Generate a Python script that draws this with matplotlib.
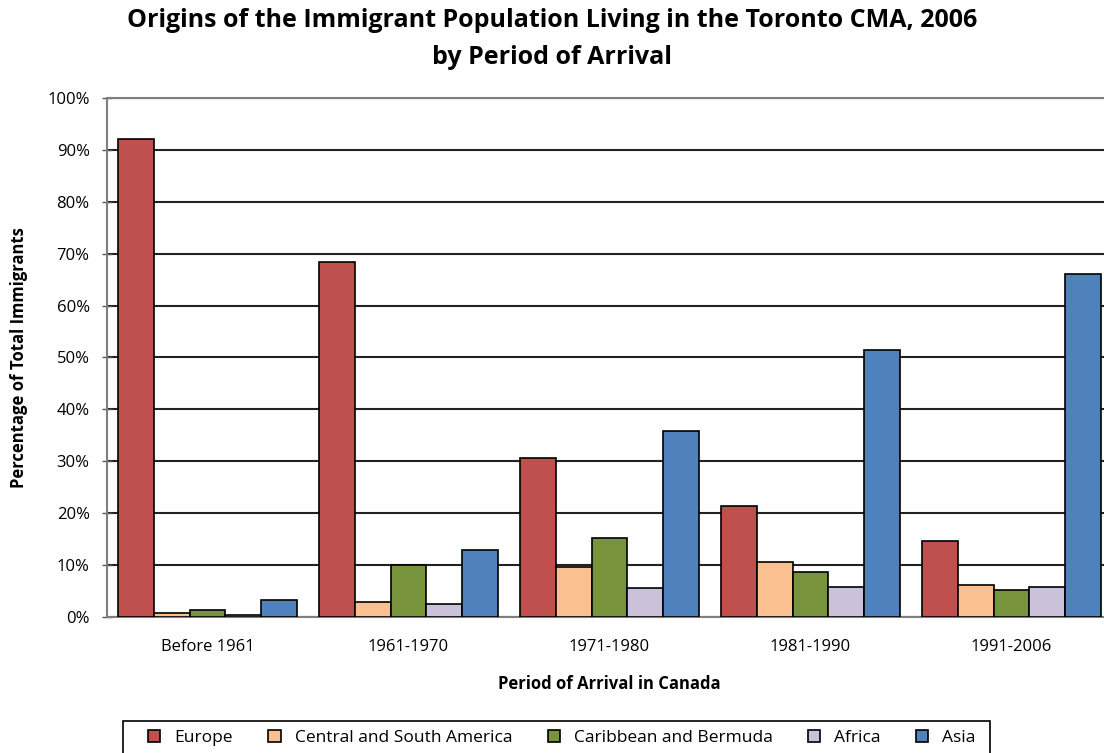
import matplotlib
matplotlib.use("Agg")
import matplotlib.pyplot as plt
from matplotlib.patches import Rectangle
import numpy as np

periods = ["Before 1961", "1961-1970", "1971-1980", "1981-1990", "1991-2006"]
regions = ["Europe", "Central and South America", "Caribbean and Bermuda", "Africa", "Asia"]
europe = [92.1, 68.4, 30.6, 21.4, 14.6]
central_south_america = [0.7, 2.9, 9.7, 10.6, 6.2]
caribbean_bermuda = [1.3, 10.0, 15.2, 8.7, 5.2]
africa = [0.3, 2.6, 5.5, 5.8, 5.8]
asia = [3.3, 13.0, 35.8, 51.4, 66.1]
colors = ["#C0504D", "#FAC090", "#77933C", "#CCC1DA", "#4F81BD"]

plt.rcParams["font.family"] = ["Open Sans", "DejaVu Sans"]

fig = plt.figure(figsize=(11.04, 7.53), dpi=100)
ax = fig.add_axes([107 / 1104, 136 / 753, 1005 / 1104, 519 / 753])

series = [europe, central_south_america, caribbean_bermuda, africa, asia]
x = np.arange(len(periods))
width = 0.179
for i, (vals, name, c) in enumerate(zip(series, regions, colors)):
    ax.bar(x + (i - 2) * width, vals, width, color=c, edgecolor="black",
           linewidth=1.2, label=name, zorder=3)

ax.set_xlim(-0.5, len(periods) - 0.5)
ax.set_ylim(0, 100)
ax.set_yticks(range(0, 101, 10))
ax.set_yticklabels([f"{v}%" for v in range(0, 101, 10)], fontsize=12)
ax.set_xticks(x)
ax.set_xticklabels(periods, fontsize=12)
ax.tick_params(axis="x", length=0, pad=16)
ax.tick_params(axis="y", direction="inout", length=7, width=1, color="#555555", pad=9)
ax.yaxis.grid(True, color="#222222", linewidth=1.5, zorder=0)
ax.set_axisbelow(True)
for s in ["left", "bottom", "top"]:
    ax.spines[s].set_color("#7f7f7f")
    ax.spines[s].set_linewidth(1.5)
ax.spines["right"].set_visible(False)

ax.set_ylabel("Percentage of Total Immigrants", fontsize=12, fontweight="bold", labelpad=14)
ax.set_xlabel("Period of Arrival in Canada", fontsize=12, fontweight="bold", labelpad=14)

fig.text(0.5, 0.99, "Origins of the Immigrant Population Living in the Toronto CMA, 2006\nby Period of Arrival",
         ha="center", va="top", fontsize=18, fontweight="bold", linespacing=1.65)

# legend without frame, box drawn separately so it can run off the bottom edge
leg = fig.legend(loc="center", bbox_to_anchor=(562 / 1104, 1 - 738 / 753), ncol=5,
                 fontsize=12.5, frameon=False,
                 handlelength=0.7, handleheight=0.7, columnspacing=2.05, handletextpad=0.8,
                 borderpad=0.3, borderaxespad=0)
fig.patches.append(Rectangle((123 / 1104, -0.02), 867 / 1104, 0.02 + 32 / 753,
                             transform=fig.transFigure, fill=False,
                             edgecolor="black", linewidth=1.2))

fig.savefig("out.png", dpi=100)
